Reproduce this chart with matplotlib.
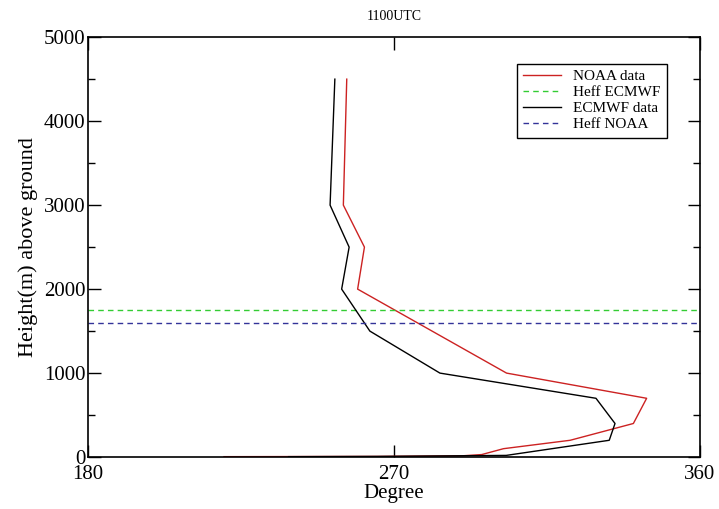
import matplotlib
matplotlib.use("Agg")
import matplotlib.pyplot as plt
from matplotlib.ticker import MultipleLocator

noaa_height = [4500, 3000, 2500, 2000, 1000, 700, 400, 200, 100, 30, 15, 8, 5]
noaa_deg = [256.1, 255.1, 261.3, 259.3, 303.1, 344.3, 340.4, 321.8, 302.2, 295.8, 290.0, 265.0, 220.0]

ecmwf_height = [4500, 3000, 2500, 2000, 1500, 1000, 700, 400, 200, 20, 8, 5]
ecmwf_deg = [252.6, 251.2, 256.8, 254.6, 262.9, 283.5, 329.4, 335.0, 333.3, 303.0, 265.0, 239.0]

heff_ecmwf = 1750
heff_noaa = 1600

plt.rcParams['font.family'] = ['Liberation Serif', 'DejaVu Serif']

fig = plt.figure(figsize=(7.19, 5.09), dpi=100)
ax = fig.add_axes([0.1224, 0.102, 0.8512, 0.825])

ax.plot(noaa_deg, noaa_height, color='#cc2222', lw=1.0, label='NOAA data')
ax.axhline(heff_ecmwf, color='#33cc33', lw=1.0, ls=(0, (4, 3)), label='Heff ECMWF')
ax.plot(ecmwf_deg, ecmwf_height, color='black', lw=1.0, label='ECMWF data')
ax.axhline(heff_noaa, color='#333399', lw=1.0, ls=(0, (4, 3)), label='Heff NOAA')

ax.set_xlim(180, 360)
ax.set_ylim(0, 5000)
ax.set_xticks([180, 270, 360])
ax.yaxis.set_major_locator(MultipleLocator(1000))
ax.yaxis.set_minor_locator(MultipleLocator(500))
ax.tick_params(which='both', direction='in', top=True, right=True, labelsize=15)
ax.tick_params(axis='y', pad=2)
ax.tick_params(axis='x', pad=6)
ax.tick_params(which='major', length=9, width=1)
ax.tick_params(which='minor', length=5, width=1)
for s in ax.spines.values():
    s.set_linewidth(1.2)

ax.set_xlabel('Degree', fontsize=15, labelpad=0)
ax.set_ylabel('Height(m) above ground', fontsize=16, labelpad=4)
ax.set_title('1100UTC', fontsize=10, pad=12)

leg = ax.legend(loc='upper right', bbox_to_anchor=(0.958, 0.955), fontsize=11,
                frameon=True, fancybox=False, edgecolor='black', framealpha=1,
                handlelength=2.5, borderpad=0.4, labelspacing=0.15, handletextpad=0.8)
leg.get_frame().set_linewidth(1.0)

fig.savefig('out.png', dpi=100)
